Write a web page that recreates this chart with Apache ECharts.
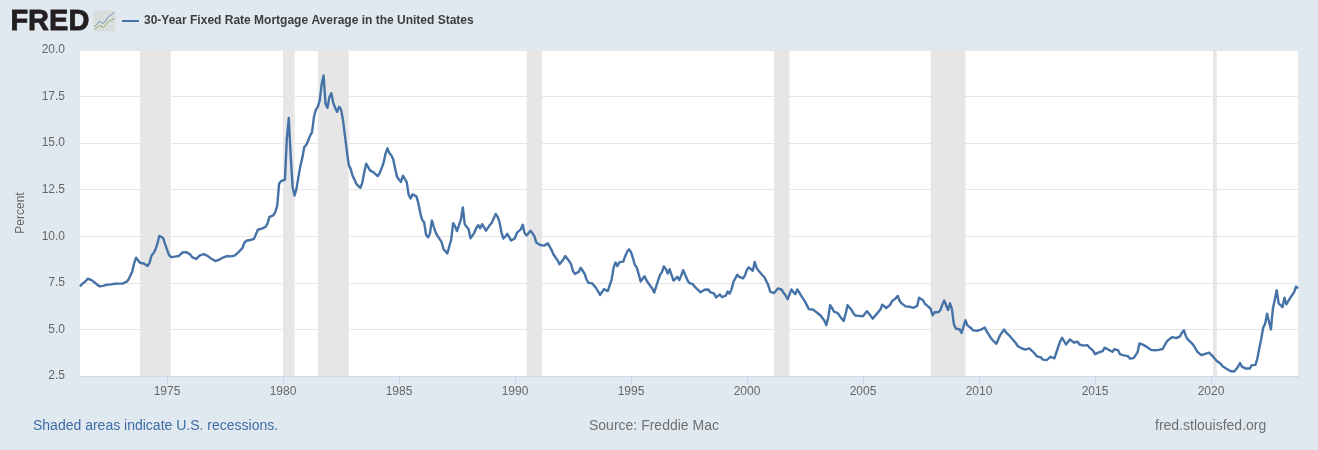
<!DOCTYPE html>
<html>
<head>
<meta charset="utf-8">
<title>30-Year Fixed Rate Mortgage Average</title>
<script src="https://cdn.jsdelivr.net/npm/echarts@6/dist/echarts.min.js"></script>
<style>
  html, body { margin: 0; padding: 0; background: #e1e9f0; }
  #chart { width: 1318px; height: 450px; }
</style>
</head>
<body>
<div id="chart"></div>
<script>
// monthly readings, first one is 1971-04, last one 2023-10
const rates1970s = [
  7.31,7.43,7.53,7.60,7.72,7.72,7.65,7.55,7.48,
  7.44,7.32,7.29,7.34,7.40,7.40,7.42,7.42,7.44,7.45,7.45,7.46,
  7.46,7.46,7.48,7.55,7.66,7.75,8.10,8.55,8.85,8.77,8.58,8.54,
  8.54,8.46,8.41,8.58,8.97,9.09,9.28,9.59,10.02,10.10,9.91,9.58,
  9.30,9.00,8.89,8.85,8.91,8.89,8.94,8.98,9.13,9.22,9.15,9.11,
  9.02,8.88,8.86,8.78,8.85,8.98,9.04,9.04,9.00,8.95,8.85,8.79,
  8.72,8.67,8.69,8.75,8.82,8.86,8.94,8.94,8.90,8.92,8.92,8.96,
  9.01,9.15,9.20,9.36,9.65,9.76,9.78,9.80,9.76,9.86,10.11,10.35,
  10.39,10.41,10.43,10.50,10.69,11.04,11.09,11.12,11.30,11.64,12.83,12.96
];
const rates1980s = [
  12.88,13.04,15.28,16.35,14.26,12.61,12.19,12.56,13.20,13.79,14.21,14.79,
  14.90,15.13,15.40,15.58,16.40,16.80,16.95,17.30,18.16,18.63,17.10,16.90,
  17.48,17.68,17.16,16.89,16.68,16.95,16.82,16.27,15.43,14.61,13.83,13.62,
  13.25,13.04,12.80,12.78,12.60,12.87,13.42,13.90,13.73,13.54,13.44,13.42,
  13.37,13.23,13.39,13.65,13.94,14.42,14.72,14.47,14.35,14.13,13.64,13.18,
  13.08,12.92,13.25,13.20,12.91,12.22,12.03,12.25,12.19,12.14,11.78,11.26,
  10.88,10.75,10.08,9.94,10.15,10.85,10.51,10.20,10.01,9.98,9.70,9.32,
  9.20,9.08,9.04,9.83,10.70,10.54,10.28,10.33,10.89,11.55,10.65,10.64,
  10.38,9.89,9.93,10.20,10.46,10.60,10.43,10.65,10.48,10.30,10.27,10.61,
  10.73,10.65,11.20,11.05,10.77,10.20,9.88,9.99,10.13,9.95,9.77,9.74
];
const rates1990s = [
  9.90,10.20,10.27,10.37,10.62,10.16,10.04,10.10,10.30,10.17,10.01,9.67,
  9.64,9.53,9.50,9.50,9.47,9.62,9.58,9.24,9.01,8.86,8.71,8.50,
  8.43,8.76,8.94,8.85,8.67,8.51,8.13,7.98,7.92,8.09,8.31,8.22,
  7.99,7.68,7.50,7.47,7.47,7.42,7.21,7.11,6.85,6.83,7.16,7.17,
  7.06,7.15,7.68,8.32,8.60,8.40,8.61,8.51,8.64,8.93,9.17,9.30,
  9.15,8.83,8.46,8.32,7.96,7.57,7.61,7.86,7.64,7.48,7.38,7.20,
  6.98,7.08,7.62,7.93,8.07,8.38,8.25,8.00,8.23,7.92,7.62,7.60,
  7.82,7.65,7.90,8.18,7.94,7.69,7.50,7.48,7.43,7.29,7.21,7.10,
  6.99,7.04,7.13,7.14,7.14,7.00,6.95,6.92,6.72,6.71,6.87,6.74,
  6.79,6.81,7.04,6.92,7.15,7.55,7.63,7.94,7.82,7.85,7.74,7.91
];
const rates2000s = [
  8.21,8.33,8.24,8.15,8.62,8.29,8.15,8.03,7.91,7.80,7.75,7.38,
  7.03,7.05,6.95,7.08,7.20,7.16,7.13,6.95,6.82,6.62,6.66,7.15,
  7.00,6.89,7.15,6.99,6.81,6.65,6.49,6.29,6.09,6.11,6.07,6.05,
  5.92,5.84,5.75,5.81,5.48,5.23,5.63,6.30,6.15,5.95,5.93,5.88,
  5.71,5.64,5.45,5.83,6.30,6.29,6.06,5.87,5.75,5.72,5.73,5.75,
  5.71,5.63,5.98,5.86,5.72,5.58,5.70,5.82,5.77,6.07,6.33,6.27,
  6.15,6.25,6.32,6.51,6.60,6.68,6.80,6.52,6.40,6.36,6.24,6.14,
  6.22,6.29,6.16,6.18,6.26,6.70,6.70,6.57,6.38,6.38,6.21,6.10,
  5.76,5.92,5.97,5.92,6.04,6.32,6.55,6.48,6.04,6.40,6.09,5.29,
  5.05,5.13,5.00,4.81,4.86,5.50,5.22,5.19,5.06,4.95,4.88,4.93
];
const rates2010s = [
  5.03,4.99,4.97,5.10,4.89,4.74,4.56,4.43,4.35,4.23,4.30,4.71,
  4.76,5.00,4.84,4.84,4.64,4.51,4.55,4.27,4.11,4.07,3.99,3.96,
  3.92,3.89,3.98,3.91,3.80,3.68,3.55,3.60,3.50,3.38,3.35,3.35,
  3.41,3.53,3.57,3.45,3.54,4.07,4.37,4.55,4.49,4.19,4.26,4.46,
  4.43,4.30,4.34,4.34,4.19,4.16,4.13,4.12,4.16,4.04,4.00,3.86,
  3.67,3.71,3.77,3.67,3.84,4.02,4.05,3.91,3.89,3.80,3.94,3.96,
  3.87,3.66,3.69,3.61,3.60,3.57,3.44,3.44,3.46,3.47,3.77,4.25,
  4.15,4.17,4.20,4.05,4.01,3.90,3.97,3.88,3.81,3.90,3.92,3.95,
  4.03,4.33,4.44,4.47,4.59,4.57,4.53,4.55,4.63,4.83,4.95,4.64,
  4.46,4.37,4.27,4.14,4.07,3.80,3.77,3.62,3.61,3.69,3.75,3.75
];
const rates2020s = [
  3.72,3.55,3.45,3.31,3.23,3.16,3.02,2.94,2.89,2.83,2.77,2.68,
  2.74,2.70,3.00,3.20,3.00,3.00,2.90,2.85,2.90,3.07,3.15,3.10,
  3.45,4.00,4.50,5.10,5.30,5.85,5.41,5.00,6.11,6.60,7.10,6.40,
  6.40,6.20,6.70,6.35,6.40,6.70,6.85,7.00,7.30,7.20
];
const rates = [...rates1970s, ...rates1980s, ...rates1990s, ...rates2000s, ...rates2010s, ...rates2020s];

const recessions = [
  ['1973-11', '1975-03'],
  ['1980-01', '1980-07'],
  ['1981-07', '1982-11'],
  ['1990-07', '1991-03'],
  ['2001-03', '2001-11'],
  ['2007-12', '2009-06'],
  ['2020-02', '2020-04']
];
const yearTickEvery = 5;
const seriesName = '30-Year Fixed Rate Mortgage Average in the United States';

const months = rates.map((_, i) => {
  const total = 1971 * 12 + 3 + i;
  const m = total % 12 + 1;
  return Math.floor(total / 12) + '-' + (m < 10 ? '0' + m : m);
});

const isLabelMonth = (index, value) => {
  const [y, m] = value.split('-');
  return m === '01' && +y % yearTickEvery === 0;
};

const font = '"Liberation Sans", Arial, sans-serif';
const chart = echarts.init(document.getElementById('chart'));

chart.setOption({
  animation: false,
  backgroundColor: '#e1e9f0',
  textStyle: { fontFamily: font },
  grid: {
    left: 80, right: 20, top: 50, bottom: 74,
    show: true, backgroundColor: '#ffffff', borderWidth: 0
  },
  legend: {
    left: 117, top: 10,
    itemWidth: 17, itemHeight: 2, itemGap: 5,
    icon: 'rect',
    data: [seriesName],
    textStyle: { color: '#3d3d3d', fontSize: 12, fontWeight: 'bold', fontFamily: font }
  },
  xAxis: {
    type: 'category',
    data: months,
    boundaryGap: false,
    axisLine: { lineStyle: { color: '#ccd6eb', width: 1 } },
    axisTick: { interval: isLabelMonth, length: 8, lineStyle: { color: '#ccd6eb' } },
    axisLabel: {
      interval: isLabelMonth,
      formatter: v => v.slice(0, 4),
      color: '#666666', fontSize: 12, margin: 10, fontFamily: font
    },
    splitLine: { show: false }
  },
  yAxis: {
    type: 'value',
    min: 2.5, max: 20, interval: 2.5,
    name: 'Percent',
    nameLocation: 'middle',
    nameGap: 53,
    nameTextStyle: { color: '#666666', fontSize: 12, fontFamily: font },
    axisLine: { show: false },
    axisTick: { show: false },
    axisLabel: {
      formatter: v => v.toFixed(1),
      color: '#666666', fontSize: 12, margin: 15, fontFamily: font,
      verticalAlignMinLabel: 'middle', verticalAlignMaxLabel: 'middle'
    },
    splitLine: { lineStyle: { color: '#e6e6e6', width: 1 } }
  },
  series: [
    {
      name: 'Recessions',
      type: 'line',
      data: [],
      silent: true,
      z: 1,
      markArea: {
        silent: true,
        itemStyle: { color: '#e6e6e6' },
        data: recessions.map(([from, to]) => [{ xAxis: from }, { xAxis: to }])
      }
    },
    {
      name: seriesName,
      type: 'line',
      data: rates,
      symbol: 'none',
      z: 3,
      itemStyle: { color: '#4572a7' },
      lineStyle: { color: '#4572a7', width: 2.4, join: 'round' }
    }
  ],
  graphic: [
    {
      type: 'text', left: 10, top: 7,
      style: { text: 'FRED', fill: '#231f20', stroke: '#231f20', lineWidth: 0.8, font: 'bold 29px ' + font }
    },
    {
      type: 'group', left: 92, top: 10,
      children: [
        { type: 'rect', shape: { x: 0, y: 0, width: 22, height: 21, r: 1 }, style: { fill: '#d9dedd' } },
        { type: 'polyline', shape: { points: [[1, 16], [6, 11], [10, 13], [15, 6], [21, 2]] }, style: { stroke: '#6f93ba', fill: null, lineWidth: 1 } },
        { type: 'polyline', shape: { points: [[1, 19], [6, 15], [10, 17], [15, 11], [21, 8]] }, style: { stroke: '#8caa5e', fill: null, lineWidth: 1 } }
      ]
    },
    {
      type: 'text', left: 33, top: 419,
      style: { text: 'Shaded areas indicate U.S. recessions.', fill: '#3e6ca5', font: '14px ' + font }
    },
    {
      type: 'text', left: 589, top: 419,
      style: { text: 'Source: Freddie Mac', fill: '#707070', font: '14px ' + font }
    },
    {
      type: 'text', left: 1155, top: 419,
      style: { text: 'fred.stlouisfed.org', fill: '#707070', font: '14px ' + font }
    }
  ]
});
</script>
</body>
</html>
